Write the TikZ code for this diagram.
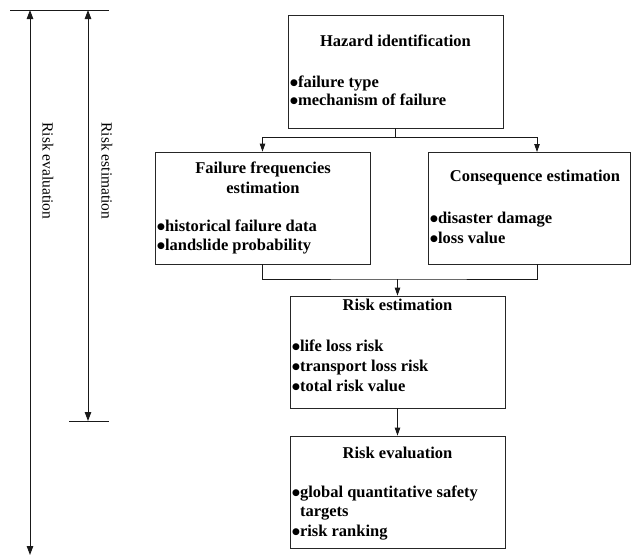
\documentclass[tikz,border=0pt]{standalone}
\usepackage{fontspec}
\setmainfont{Liberation Serif}
\newfontfamily\dvfont{DejaVu Sans}
\newcommand{\bdot}{\raisebox{2pt}{\dvfont\fontsize{9}{9}\selectfont ●}}
\usetikzlibrary{arrows.meta}
\begin{document}
\begin{tikzpicture}[x=1pt,y=-1pt,
  box/.style={draw=black!85,line width=0.8pt,minimum width=#1,minimum height=112pt,inner sep=0pt},
  ttl/.style={font=\fontsize{16.5}{20}\selectfont\bfseries,align=center,inner sep=0pt},
  blist/.style={font=\fontsize{16.5}{19.8}\selectfont\bfseries,align=left,anchor=west,inner sep=0pt},
  conn/.style={line width=0.8pt,black!90},
  carr/.style={conn,-{Triangle[length=8pt,width=5.5pt]}},
  side/.style={line width=0.9pt,black!90},
  sarr/.style={side,{Triangle[length=9pt,width=6.5pt]}-{Triangle[length=9pt,width=6.5pt]}},
  vlab/.style={font=\fontsize{15.5}{18}\selectfont,rotate=-90,inner sep=0pt}]
\useasboundingbox (0,0) rectangle (632,557);
% boxes
\node[box=215pt,minimum height=113pt] (haz) at (395.5,71.5) {};
\node[box=215pt] (fail) at (262.5,208) {};
\node[box=202pt] (cons) at (529,208) {};
\node[box=215pt] (rest) at (397.5,352) {};
\node[box=215pt] (reval) at (397.5,492) {};
% titles
\node[ttl] (hazt) at (395.5,41) {Hazard identification};
\node[ttl] (failt) at (263,178) {Failure frequencies\\estimation};
\node[ttl] (const) at (535,178) {Consequence estimation};
\node[ttl] (restt) at (397.5,305) {Risk estimation};
\node[ttl] (revalt) at (397.5,453) {Risk evaluation};
% bullets
\node[blist,font=\fontsize{16.5}{18.5}\selectfont\bfseries] (hazb) at (290,91) {\bdot failure type\\\bdot mechanism of failure};
\node[blist] (failb) at (157,237) {\bdot historical failure data\\\bdot landslide probability};
\node[blist] (consb) at (430,227.5) {\bdot disaster damage\\\bdot loss value};
\node[blist] (restb) at (292,366) {\bdot life loss risk\\\bdot transport loss risk\\\bdot total risk value};
\node[blist] (revalb) at (292,513) {\bdot global quantitative safety\\\phantom{\bdot}targets\\\bdot risk ranking};
% connectors
\coordinate (split) at (395.5,137);
\coordinate (join) at (397.5,279);
\coordinate (consin) at (537,152);
\coordinate (consout) at (537,264);
\draw[conn] (haz.south) -- (split);
\draw[carr] (split) -| (fail.north);
\draw[carr] (split) -| (consin);
\draw[conn] (fail.south) |- (join) -| (consout);
\draw[carr] (join) -- (rest.north);
\draw[carr] (rest.south) -- (reval.north);
% side scale
\coordinate (tl) at (10,10);
\coordinate (tr) at (109,10);
\coordinate (bl) at (69,421);
\coordinate (br) at (109,421);
\coordinate (evtop) at (30,10);
\coordinate (evbot) at (30,555);
\coordinate (estop) at (88,10);
\coordinate (esbot) at (88,421);
\draw[side] (tl) -- (tr);
\draw[side] (bl) -- (br);
\draw[sarr] (evtop) -- (evbot);
\draw[sarr] (estop) -- (esbot);
\node[vlab] (evlab) at (48,171) {Risk evaluation};
\node[vlab] (eslab) at (107,171) {Risk estimation};
\end{tikzpicture}
\end{document}
